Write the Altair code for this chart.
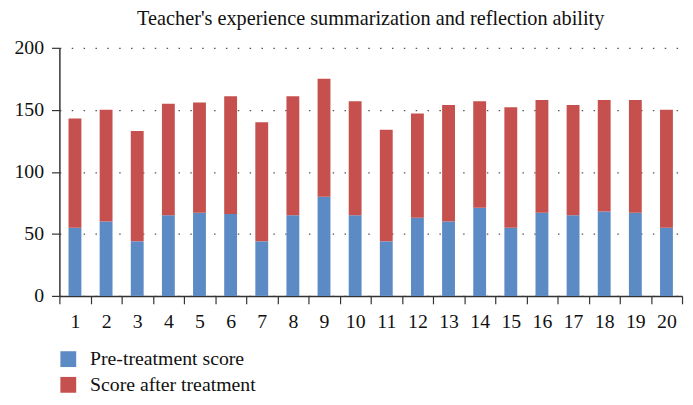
import altair as alt
import pandas as pd

categories = [str(i) for i in range(1, 21)]
pre_scores = [55, 60, 44, 65, 67, 66, 44, 65, 80, 65, 44, 63, 60, 71, 55, 67, 65, 68, 67, 55]
after_scores = [88, 90, 89, 90, 89, 95, 96, 96, 95, 92, 90, 84, 94, 86, 97, 91, 89, 90, 91, 95]
series = ["Pre-treatment score", "Score after treatment"]
colors = ["#5B8AC5", "#C5504D"]
title = "Teacher's experience summarization and reflection ability"

rows = []
for c, p, a in zip(categories, pre_scores, after_scores):
    rows.append({"cat": c, "series": series[0], "value": p, "ord": 0})
    rows.append({"cat": c, "series": series[1], "value": a, "ord": 1})
df = pd.DataFrame(rows)

FONT = "Liberation Serif"

chart = alt.Chart(df).mark_bar(width=alt.RelativeBandSize(0.413)).encode(
    x=alt.X("cat:N", sort=categories,
            scale=alt.Scale(paddingInner=0, paddingOuter=0),
            axis=alt.Axis(title=None, labelAngle=0, tickBand="extent",
                          labelFontSize=20, labelFont=FONT, labelColor="#111",
                          domainColor="#333", tickColor="#333", tickSize=8,
                          labelPadding=8, domainWidth=1.5, tickWidth=1.2)),
    y=alt.Y("value:Q", stack="zero",
            scale=alt.Scale(domain=[0, 200], nice=False),
            axis=alt.Axis(title=None, values=[0, 50, 100, 150, 200],
                          labelFontSize=20, labelFont=FONT, labelColor="#111",
                          domainColor="#333", tickColor="#333", tickSize=8,
                          labelPadding=8, domainWidth=1.5, tickWidth=1.2,
                          grid=True, gridColor="#555", gridDash=[1.5, 10.5],
                          gridWidth=1.2)),
    color=alt.Color("series:N", scale=alt.Scale(domain=series, range=colors),
                    legend=alt.Legend(title=None, orient="none",
                                      legendX=-1, legendY=305,
                                      symbolType="square", symbolSize=256,
                                      symbolStrokeWidth=0, labelLimit=0,
                                      labelFontSize=20, labelFont=FONT,
                                      labelColor="#111", rowPadding=6,
                                      labelOffset=12, direction="vertical")),
    order=alt.Order("ord:Q"),
).properties(
    width=630, height=251,
    title=alt.TitleParams(title, font=FONT, fontSize=20.5, fontWeight="normal",
                          color="#111", anchor="middle", offset=9),
    autosize=alt.AutoSizeParams(type="none"),
    padding={"left": 52, "top": 38, "right": 3, "bottom": 99},
).configure_view(stroke=None)

chart.save("out.html", embed_options={"renderer": "svg", "actions": False})
